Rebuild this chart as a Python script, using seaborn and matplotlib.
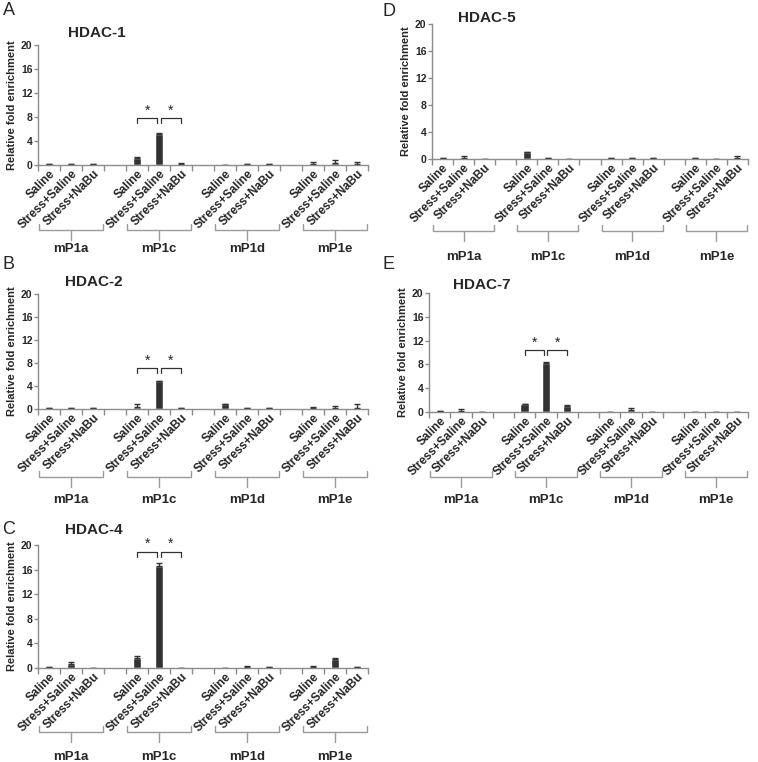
import numpy as np
import pandas as pd
import matplotlib
matplotlib.use('Agg')
import matplotlib.pyplot as plt
import matplotlib.transforms as mtransforms
import seaborn as sns

sns.set_theme(style='ticks')
plt.rcParams['font.family'] = ['Liberation Sans', 'DejaVu Sans']

# --- data ---
groups = ['mP1a', 'mP1c', 'mP1d', 'mP1e']
conditions = ['Saline', 'Stress+Saline', 'Stress+NaBu']

hdac1_mean = [0.15, 0.15, 0.15, 1.1, 5.2, 0.1, 0.05, 0.1, 0.1, 0.2, 0.4, 0.15]
hdac1_err = [0.05, 0.05, 0.05, 0.3, 0.1, 0.3, 0.02, 0.05, 0.05, 0.3, 0.4, 0.3]

hdac2_mean = [0.15, 0.1, 0.1, 0.4, 4.8, 0.1, 0.8, 0.1, 0.1, 0.1, 0.25, 0.2]
hdac2_err = [0.05, 0.03, 0.03, 0.4, 0.1, 0.05, 0.1, 0.03, 0.03, 0.2, 0.3, 0.6]

hdac4_mean = [0.1, 0.6, 0.05, 1.7, 16.6, 0.05, 0.05, 0.1, 0.1, 0.1, 1.5, 0.15]
hdac4_err = [0.05, 0.3, 0.02, 0.3, 0.5, 0.02, 0.02, 0.3, 0.05, 0.25, 0.1, 0.05]

hdac5_mean = [0.15, 0.15, 0.05, 1.0, 0.15, 0.05, 0.15, 0.15, 0.15, 0.15, 0.05, 0.2]
hdac5_err = [0.05, 0.3, 0.02, 0.05, 0.05, 0.02, 0.05, 0.05, 0.05, 0.05, 0.02, 0.2]

hdac7_mean = [0.2, 0.15, 0.05, 1.3, 8.3, 1.05, 0.05, 0.3, 0.05, 0.05, 0.05, 0.05]
hdac7_err = [0.05, 0.3, 0.02, 0.05, 0.05, 0.1, 0.02, 0.3, 0.02, 0.02, 0.02, 0.02]

# height of the significance brackets (None = no brackets)
sig_heights = {'HDAC-1': 7.8, 'HDAC-2': 7.1, 'HDAC-4': 18.9, 'HDAC-5': None, 'HDAC-7': 10.4}

# slot order: 3 bars per promoter region with an empty slot between regions
order = []
for i, g in enumerate(groups):
    order += [f'{g}|{c}' for c in conditions]
    if i < len(groups) - 1:
        order.append(f'gap{i}')

W, H = 758, 762
fig = plt.figure(figsize=(W / 100, H / 100), dpi=100)

# layout in pixels: axes (x0, x1, y_top, y_zero), title offset, letter pos,
# bracket / region label distance below the axis
layout = [
    ('A', 'HDAC-1', hdac1_mean, hdac1_err, (38, 368, 45, 165), (30, 12), (3, 2), (65, 84)),
    ('B', 'HDAC-2', hdac2_mean, hdac2_err, (38, 368, 294, 409), (27, 12), (2, 256), (68, 91)),
    ('C', 'HDAC-4', hdac4_mean, hdac4_err, (38, 368, 545, 668), (27, 15), (2, 521), (64, 89)),
    ('D', 'HDAC-5', hdac5_mean, hdac5_err, (432, 748, 24, 159), (26, 6), (382, 3), (72, 98)),
    ('E', 'HDAC-7', hdac7_mean, hdac7_err, (429, 748, 293, 412), (24, 8), (382, 256), (65, 88)),
]

bar_col = '#333333'
axis_col = '#8c8c8c'
brk_col = '#9a9a9a'

for letter, name, means, errs, (x0, x1, yt, yz), (tdx, tdy), (lx, ly), (bdy, gdy) in layout:
    ax_h = yz - yt
    ax = fig.add_axes([x0 / W, 1 - yz / H, (x1 - x0) / W, ax_h / H])
    df = pd.DataFrame({
        'slot': [f'{g}|{c}' for g in groups for c in conditions],
        'value': means,
        'err': errs,
    })
    sns.barplot(data=df, x='slot', y='value', order=order, color=bar_col,
                saturation=1, width=0.4, errorbar=None, ax=ax)
    pos = [order.index(s) for s in df['slot']]
    ax.errorbar(pos, df['value'], yerr=[np.zeros(len(df)), df['err']], fmt='none',
                ecolor='#333333', elinewidth=1, capsize=2.5, capthick=1)

    ax.set_xlim(-0.5, len(order) - 0.5)
    ax.set_ylim(0, 20)
    ax.set_yticks([0, 4, 8, 12, 16, 20])
    ax.set_xticks(pos)
    ax.set_xticklabels(conditions * len(groups), rotation=45, ha='right', va='center',
                       rotation_mode='anchor', fontsize=8.5, fontweight='bold')
    ax.set_xticks(np.arange(-0.5, len(order)), minor=True)
    ax.tick_params(axis='x', which='major', length=0, pad=5)
    ax.tick_params(axis='x', which='minor', length=4, width=1, color=axis_col, direction='out')
    ax.tick_params(axis='y', length=3, width=1, color=axis_col, pad=1)
    for t in ax.get_yticklabels():
        t.set_fontweight('bold')
        t.set_fontsize(7.5)
    # shift tick labels so the text ends just right of its bar
    shift = mtransforms.ScaledTranslation(3 / 72, 0, fig.dpi_scale_trans)
    for t in ax.get_xticklabels():
        t.set_transform(t.get_transform() + shift)

    ax.set_xlabel('')
    ax.set_ylabel('Relative fold enrichment', fontsize=8, fontweight='bold', labelpad=3)
    sns.despine(ax=ax)
    for s in ['left', 'bottom']:
        ax.spines[s].set_color(axis_col)
        ax.spines[s].set_linewidth(1)

    # title and panel letter
    ax.text(tdx / (x1 - x0), 1 + tdy / ax_h, name, transform=ax.transAxes,
            fontsize=11, fontweight='bold', ha='left', va='center')
    fig.text(lx / W, 1 - ly / H, letter, fontsize=13, ha='left', va='top')

    # promoter region brackets below the tick labels (x in data, y in axes fraction)
    base = mtransforms.blended_transform_factory(ax.transData, ax.transAxes)
    yb = -bdy / ax_h
    y_up = -(bdy - 6) / ax_h
    y_dn = -(bdy + 10) / ax_h
    for g in groups:
        c = order.index(f'{g}|{conditions[1]}')
        a, b = c - 1.45, c + 1.45
        ax.plot([a, a, b, b], [y_up, yb, yb, y_up], color=brk_col, lw=1,
                transform=base, clip_on=False)
        ax.plot([c, c], [yb, y_dn], color=brk_col, lw=1, transform=base, clip_on=False)
        ax.text(c, -gdy / ax_h, g, transform=base, ha='center', va='center',
                fontsize=9.5, fontweight='bold')

    # significance brackets
    h = sig_heights[name]
    if h is not None:
        mid = order.index(f'{groups[1]}|{conditions[1]}')
        for a, b in [(mid - 1, mid - 0.07), (mid + 0.07, mid + 1)]:
            ax.plot([a, a, b, b], [h - 0.8, h, h, h - 0.8], color='#333333', lw=0.9,
                    clip_on=False)
            ax.text((a + b) / 2, h + 0.1, '*', ha='center', va='bottom', fontsize=10,
                    clip_on=False)

fig.savefig('out.png', dpi=100)
